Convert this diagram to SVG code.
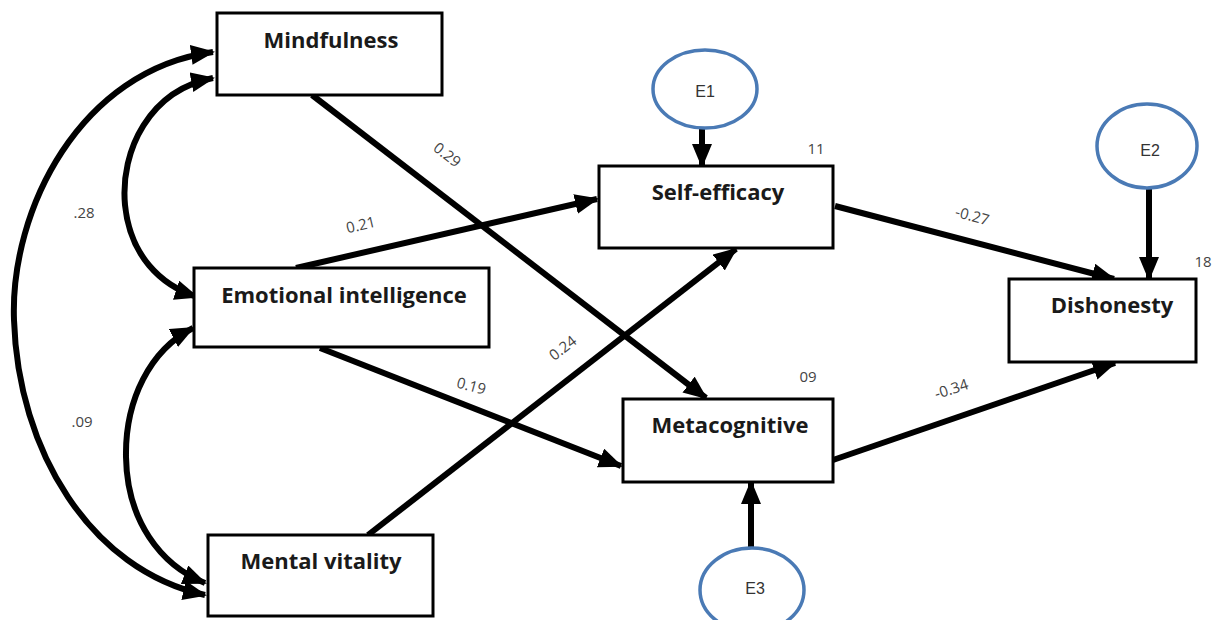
<svg xmlns="http://www.w3.org/2000/svg" width="1221" height="620" viewBox="0 0 1221 620">
<style>
.box{fill:#fff;stroke:#000;stroke-width:3}
.lbl{font-family:"Open Sans","Liberation Sans",sans-serif;font-weight:bold;font-size:22px;fill:#1a1a1a;text-anchor:middle}
.err{fill:#fff;stroke:#4a7ab5;stroke-width:3.5}
.elbl{font-family:"Liberation Sans",sans-serif;font-size:16px;fill:#333;text-anchor:middle}
.num{font-family:"Open Sans","Liberation Sans",sans-serif;font-size:15px;fill:#444;text-anchor:middle}
.arr{fill:none;stroke:#000;stroke-width:6;marker-end:url(#ah)}
.dbl{fill:none;stroke:#000;stroke-width:6;marker-start:url(#ah);marker-end:url(#ah)}
</style>
<defs>
<marker id="ah" markerUnits="userSpaceOnUse" markerWidth="26" markerHeight="22" refX="22" refY="10" orient="auto-start-reverse" viewBox="0 0 26 22">
<path d="M0,0 L24,10 L0,20 z" fill="#000"/>
</marker>
</defs>
<rect width="1221" height="620" fill="#fff"/>
<g id="connectors">
<path class="dbl" d="M213,52 C80,70 10,210 14,320 C18,450 90,570 205,595"/>
<path class="dbl" d="M213,78 C150,90 120,150 125,205 C130,255 160,285 197,297"/>
<path class="dbl" d="M193,328 C150,350 125,400 126,457 C127,520 160,565 205,583"/>
<path class="arr" d="M312,95 L706,398"/>
<path class="arr" d="M296,268 L597,199"/>
<path class="arr" d="M320,348 L621,466"/>
<path class="arr" d="M368,535 L736,249"/>
<path class="arr" d="M835,206 L1114,279"/>
<path class="arr" d="M833,460 L1115,363"/>
<path class="arr" d="M702,128 L702,166"/>
<path class="arr" d="M1149,188 L1149,279"/>
<path class="arr" d="M751,547 L751,482"/>
</g>
<g id="labels">
<text class="num" x="84" y="218">.28</text>
<text class="num" x="82" y="427">.09</text>
<text class="num" transform="translate(362,230) rotate(-13)">0.21</text>
<text class="num" transform="translate(444,159) rotate(38)">0.29</text>
<text class="num" transform="translate(566,352) rotate(-38)">0.24</text>
<text class="num" transform="translate(470,391) rotate(15)">0.19</text>
<text class="num" transform="translate(971,221) rotate(15)">-0.27</text>
<text class="num" transform="translate(953,394) rotate(-18)">-0.34</text>
<text class="num" x="816" y="154">11</text>
<text class="num" x="808" y="382">09</text>
<text class="num" x="1203" y="267">18</text>
</g>
<g id="mindfulness"><rect class="box" x="217" y="13" width="225" height="82"/><text class="lbl" x="331" y="48">Mindfulness</text></g>
<g id="emotional"><rect class="box" x="194" y="268" width="295" height="79"/><text class="lbl" x="344" y="303">Emotional intelligence</text></g>
<g id="mental"><rect class="box" x="208" y="535" width="225" height="81"/><text class="lbl" x="321" y="569">Mental vitality</text></g>
<g id="selfefficacy"><rect class="box" x="599" y="166" width="234" height="82"/><text class="lbl" x="718" y="200">Self-efficacy</text></g>
<g id="metacognitive"><rect class="box" x="623" y="399" width="210" height="83"/><text class="lbl" x="730" y="433">Metacognitive</text></g>
<g id="dishonesty"><rect class="box" x="1009" y="279" width="187" height="83"/><text class="lbl" x="1112" y="313">Dishonesty</text></g>
<g id="e1"><ellipse class="err" cx="705" cy="89" rx="52" ry="39"/><text class="elbl" x="705" y="97">E1</text></g>
<g id="e2"><ellipse class="err" cx="1147" cy="146" rx="50" ry="42"/><text class="elbl" x="1150" y="156">E2</text></g>
<g id="e3"><ellipse class="err" cx="752" cy="590" rx="52" ry="42"/><text class="elbl" x="755" y="594">E3</text></g>
</svg>
